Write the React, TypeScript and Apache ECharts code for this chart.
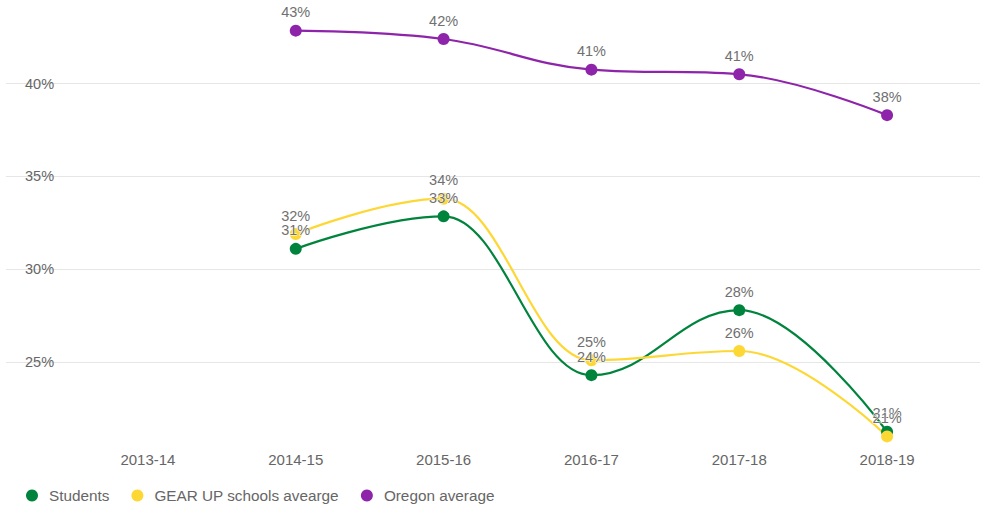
import React, { useEffect, useRef } from "react";
import * as echarts from "echarts";

const categories = ["2013-14", "2014-15", "2015-16", "2016-17", "2017-18", "2018-19"];
const students = [null, 31.1, 32.85, 24.3, 27.8, 21.25];
const gearUp = [null, 31.9, 33.8, 25.1, 25.6, 21.0];
const oregon = [null, 42.85, 42.4, 40.75, 40.5, 38.3];
const yMin = 20;
const yMax = 44.5;
const yStep = 5;

const FONT = "'Liberation Sans', Arial, Helvetica, sans-serif";
const TEXT = "#666666";
const LABEL = "#707070";
const COLORS = { students: "#00843d", gear: "#fdd835", oregon: "#8e24aa" };

type P = { x: number; y: number; lcx?: number; lcy?: number; rcx?: number; rcy?: number };

// Highcharts-style spline control points (pixel space)
function splineControls(pts: P[]) {
  const s = 1.5;
  const d = s + 1;
  for (let i = 0; i < pts.length; i++) {
    const p = pts[i];
    const last = pts[i - 1];
    const next = pts[i + 1];
    if (last && next) {
      const lcx = (s * p.x + last.x) / d;
      let lcy = (s * p.y + last.y) / d;
      const rcx = (s * p.x + next.x) / d;
      let rcy = (s * p.y + next.y) / d;
      let corr = 0;
      if (rcx !== lcx) corr = ((rcy - lcy) * (rcx - p.x)) / (rcx - lcx) + p.y - rcy;
      lcy += corr;
      rcy += corr;
      if (lcy > last.y && lcy > p.y) {
        lcy = Math.max(last.y, p.y);
        rcy = 2 * p.y - lcy;
      } else if (lcy < last.y && lcy < p.y) {
        lcy = Math.min(last.y, p.y);
        rcy = 2 * p.y - lcy;
      }
      if (rcy > next.y && rcy > p.y) {
        rcy = Math.max(next.y, p.y);
        lcy = 2 * p.y - rcy;
      } else if (rcy < next.y && rcy < p.y) {
        rcy = Math.min(next.y, p.y);
        lcy = 2 * p.y - rcy;
      }
      p.lcx = lcx;
      p.lcy = lcy;
      p.rcx = rcx;
      p.rcy = rcy;
    }
  }
  return pts;
}

export default function App() {
  const ref = useRef<HTMLDivElement>(null);
  useEffect(() => {
    document.body.style.margin = "0";
    const chart = echarts.init(ref.current!, null, { renderer: "svg" });

    const mkPoints = (name: string, data: (number | null)[], color: string) => ({
      name,
      type: "line",
      xAxisIndex: 1,
      yAxisIndex: 1,
      z: 3,
      data: data.map((v) => (v === null ? "-" : v)),
      symbol: "circle",
      symbolSize: 12,
      lineStyle: { color, width: 0, opacity: 0 },
      itemStyle: { color },
      label: {
        show: true,
        position: "top",
        distance: 5,
        color: LABEL,
        fontSize: 14.5,
        fontFamily: FONT,
        textBorderColor: "#ffffff",
        textBorderWidth: 1,
        formatter: (p: any) => Math.round(p.value) + "%",
      },
      emphasis: { disabled: true },
    });

    const mkCurve = (name: string, data: (number | null)[], color: string) => {
      const items = data
        .map((v, i) => (v === null ? null : [i, v]))
        .filter((d) => d !== null) as number[][];
      return {
        name: name + " curve",
        type: "custom",
        xAxisIndex: 1,
        yAxisIndex: 1,
        z: 2,
        silent: true,
        data: items,
        renderItem: (params: any, api: any) => {
          const idx = params.dataIndex;
          if (idx === 0) return null;
          const pts: P[] = items.map((it) => {
            const c = api.coord(it);
            return { x: c[0], y: c[1] };
          });
          splineControls(pts);
          const a = pts[idx - 1];
          const b = pts[idx];
          return {
            type: "bezierCurve",
            shape: {
              x1: a.x,
              y1: a.y,
              cpx1: a.rcx ?? a.x,
              cpy1: a.rcy ?? a.y,
              cpx2: b.lcx ?? b.x,
              cpy2: b.lcy ?? b.y,
              x2: b.x,
              y2: b.y,
            },
            style: { stroke: color, lineWidth: 2.2, fill: "none" },
          };
        },
      };
    };

    chart.setOption({
      animation: false,
      textStyle: { fontFamily: FONT },
      grid: [
        { left: 6, right: 10, top: 0, bottom: 54 },
        { left: 74, right: 29, top: 0, bottom: 54 },
      ],
      legend: {
        left: 21,
        top: 483,
        itemWidth: 24,
        itemHeight: 12,
        itemGap: 22,
        icon: "circle",
        textStyle: { color: TEXT, fontSize: 15.3, fontFamily: FONT },
        data: ["Students", "GEAR UP schools avearge", "Oregon average"],
      },
      xAxis: [
        {
          type: "category",
          gridIndex: 0,
          data: categories,
          show: false,
        },
        {
          type: "category",
          gridIndex: 1,
          data: categories,
          boundaryGap: true,
          axisLine: { show: false },
          axisTick: { show: false },
          axisLabel: { color: TEXT, fontSize: 15, fontFamily: FONT, margin: -3 },
          splitLine: { show: false },
        },
      ],
      yAxis: [
        {
          type: "value",
          gridIndex: 0,
          min: yMin,
          max: yMax,
          interval: yStep,
          axisLine: { show: false },
          axisTick: { show: false },
          axisLabel: {
            inside: true,
            margin: 19,
            color: TEXT,
            fontSize: 14.5,
            fontFamily: FONT,
            showMinLabel: false,
            showMaxLabel: false,
            formatter: (v: number) => v + "%",
          },
          splitLine: {
            show: true,
            showMinLine: false,
            showMaxLine: false,
            lineStyle: { color: "#e6e6e6", width: 1 },
          },
        },
        {
          type: "value",
          gridIndex: 1,
          min: yMin,
          max: yMax,
          interval: yStep,
          show: false,
          splitLine: { show: false },
        },
      ],
      series: [
        mkCurve("Students", students, COLORS.students),
        mkCurve("GEAR UP schools avearge", gearUp, COLORS.gear),
        mkCurve("Oregon average", oregon, COLORS.oregon),
        mkPoints("Students", students, COLORS.students),
        mkPoints("GEAR UP schools avearge", gearUp, COLORS.gear),
        mkPoints("Oregon average", oregon, COLORS.oregon),
      ],
    });
    return () => chart.dispose();
  }, []);
  return <div ref={ref} style={{ width: 990, height: 509 }} />;
}
